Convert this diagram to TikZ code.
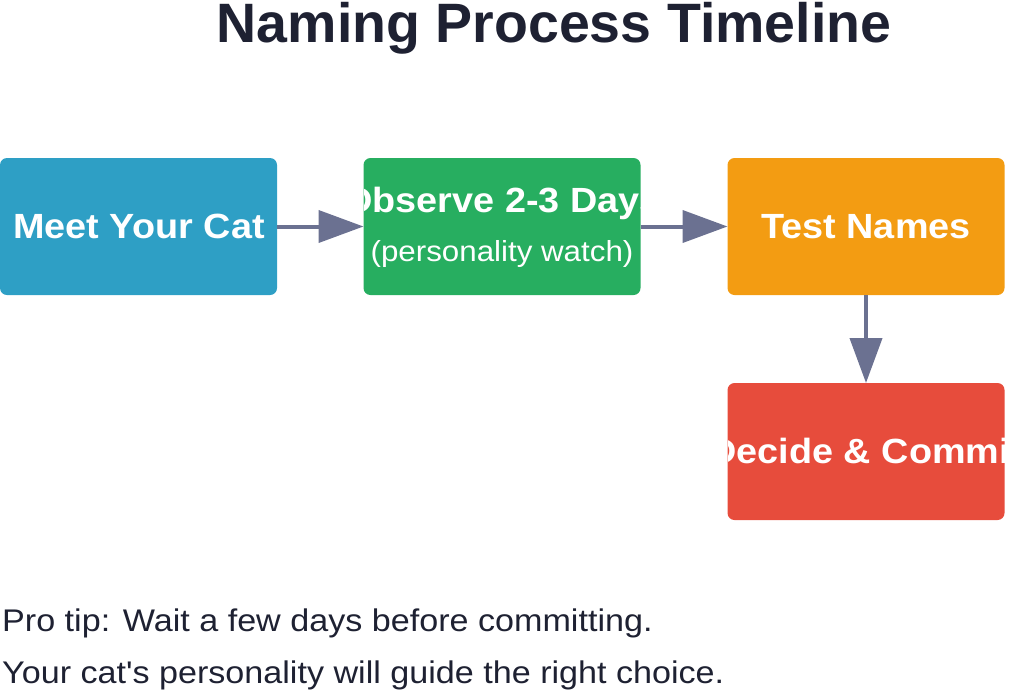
\documentclass[tikz,border=0pt]{standalone}
\usepackage{fontspec}
\setmainfont{Liberation Sans}
\newfontfamily\boxfont[FakeStretch=1.08]{Liberation Sans}
\newfontfamily\tipfont[FakeStretch=1.09]{Liberation Sans}
\usetikzlibrary{arrows.meta}
\definecolor{cblue}{HTML}{2E9FC5}
\definecolor{cgreen}{HTML}{27AE60}
\definecolor{corange}{HTML}{F39C12}
\definecolor{cred}{HTML}{E74C3C}
\definecolor{carrow}{HTML}{6B7191}
\definecolor{cdark}{HTML}{1E2132}
\begin{document}
\begin{tikzpicture}[x=1pt,y=-1pt,
  stepbox/.style={rectangle, rounded corners=7pt, minimum width=277pt, minimum height=137pt, inner sep=0pt, outer sep=0pt},
  boxlabel/.style={anchor=base, text=white, inner sep=0pt, font=\boxfont\bfseries\fontsize{35}{40}\selectfont},
  sublabel/.style={anchor=base, text=white, inner sep=0pt, font=\boxfont\fontsize{29}{34}\selectfont},
  conn/.style={draw=carrow, line width=4pt, -{Triangle[length=45pt,width=32pt]}},
  tiptext/.style={anchor=base west, text=cdark, inner sep=0pt, font=\tipfont\fontsize{31.3}{36}\selectfont}
]
\useasboundingbox (0,0) rectangle (1024,691);
\node[anchor=base, text=cdark, inner sep=0pt, font=\bfseries\fontsize{55.5}{60}\selectfont] (title) at (554,42) {Naming Process Timeline};

\node[stepbox, fill=cblue] (b1) at (138.5,226.5) {};
\node[stepbox, fill=cgreen] (b2) at (502,226.5) {};
\node[stepbox, fill=corange] (b3) at (866,226.5) {};
\node[stepbox, fill=cred] (b4) at (866,451.5) {};

\begin{scope}
  \clip[rounded corners=7pt] (b1.south west) rectangle (b1.north east);
  \node[boxlabel] (l1) at (139,238) {Meet Your Cat};
\end{scope}
\begin{scope}
  \clip[rounded corners=7pt] (b2.south west) rectangle (b2.north east);
  \node[boxlabel] (l2) at (502,212) {Observe 2-3 Days};
  \node[sublabel] (l2b) at (502,261) {(personality watch)};
\end{scope}
\begin{scope}
  \clip[rounded corners=7pt] (b3.south west) rectangle (b3.north east);
  \node[boxlabel] (l3) at (866,238) {Test Names};
\end{scope}
\begin{scope}
  \clip[rounded corners=7pt] (b4.south west) rectangle (b4.north east);
  \node[boxlabel] (l4) at (866,463) {Decide \& Commit};
\end{scope}

\draw[conn] (b1.east) -- (b2.west);
\draw[conn] (b2.east) -- (b3.west);
\draw[conn] (b3.south) -- (b4.north);

\node[tiptext] (tip1) at (2,631) {Pro tip: Wait a few days before committing.};
\node[tiptext] (tip2) at (2,683) {Your cat's personality will guide the right choice.};
\end{tikzpicture}
\end{document}
